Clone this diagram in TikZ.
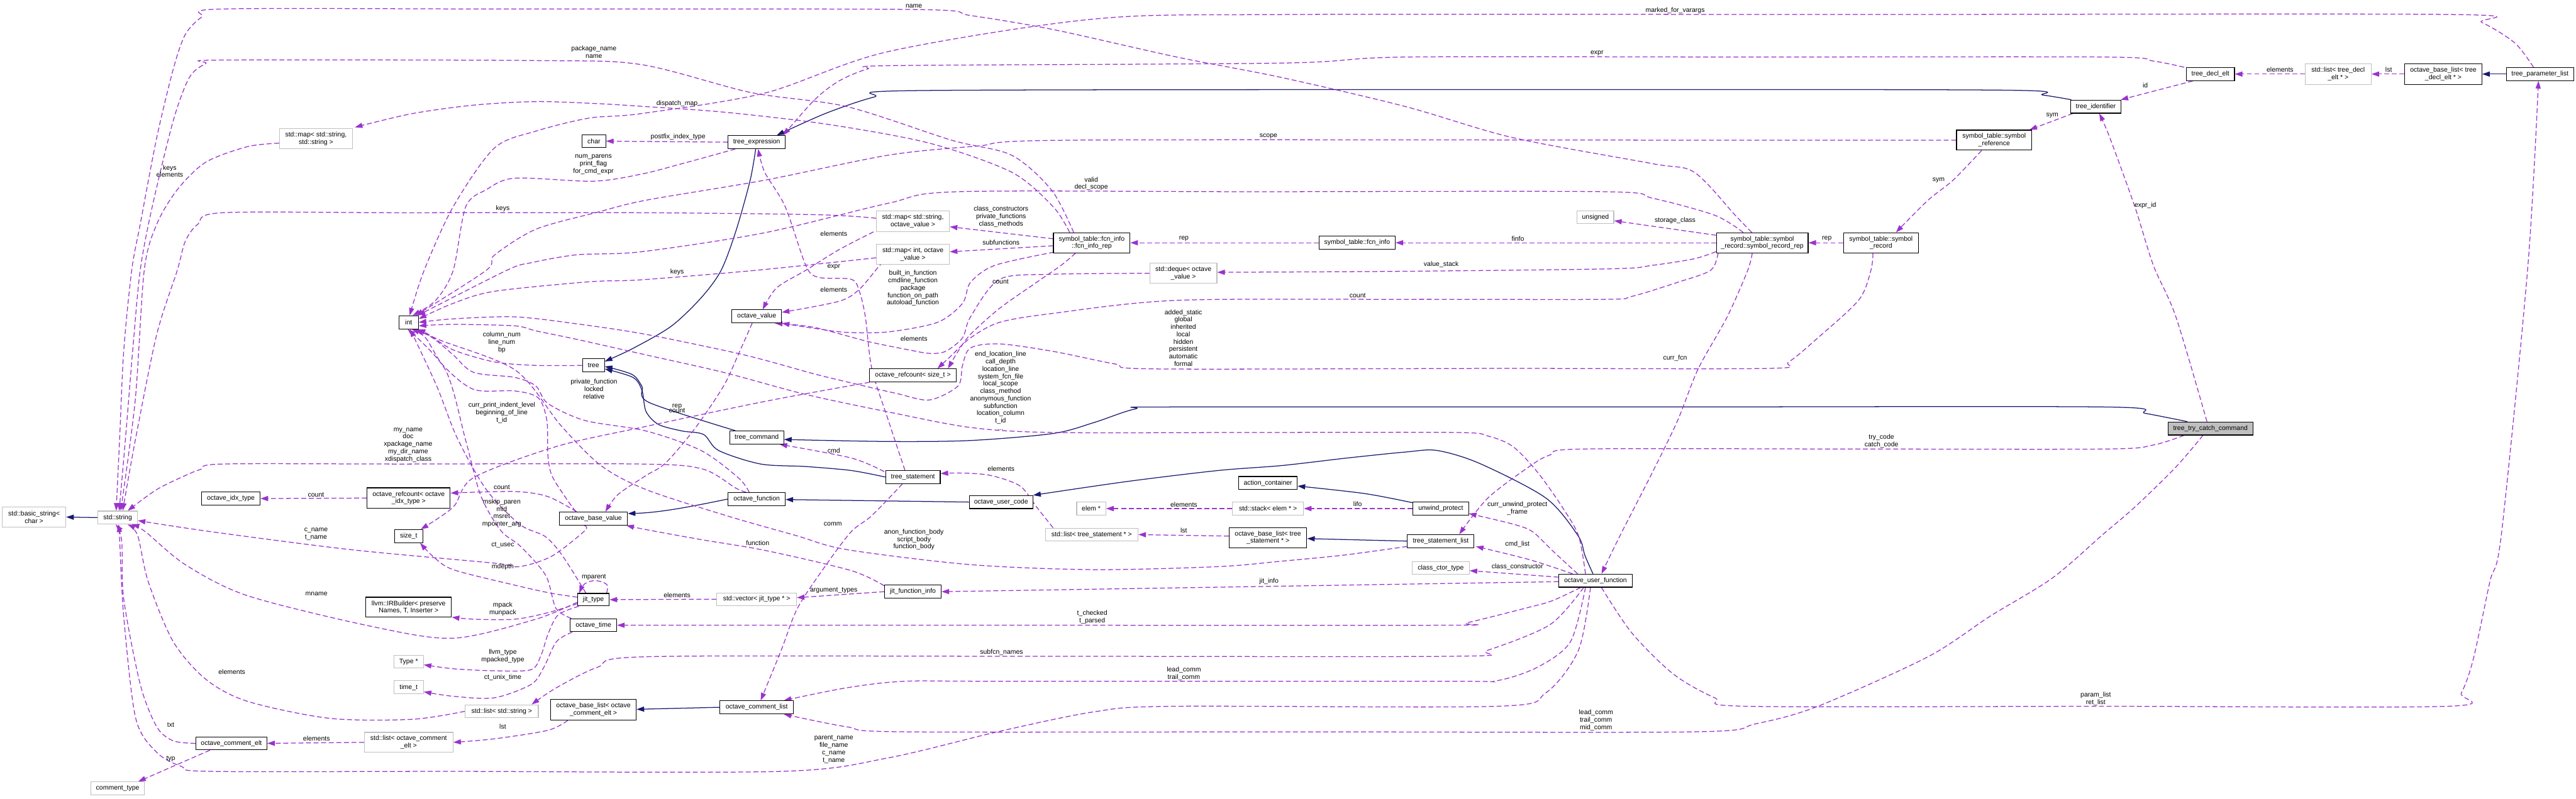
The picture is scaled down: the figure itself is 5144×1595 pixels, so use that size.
\documentclass[tikz,border=0pt]{standalone}
\usepackage{fontspec}
\setmainfont{Liberation Sans}
\usetikzlibrary{arrows.meta,calc}
\definecolor{depc}{HTML}{9A32CD}
\definecolor{inhc}{HTML}{191970}
\definecolor{gboxc}{HTML}{BFBFBF}
\pgfdeclarelayer{back}
\pgfdeclarelayer{edges}
\pgfsetlayers{back,edges,main}
\begin{document}
\begin{tikzpicture}[x=0.01cm,y=-0.01cm,
  txt/.style={font=\fontsize{3.75pt}{4.2pt}\selectfont, inner sep=0pt, align=center},
  cls/.style 2 args={txt, draw=black, line width=0.4pt, fill=white, minimum width=#1*0.01cm, minimum height=#2*0.01cm},
  ext/.style 2 args={txt, draw=gboxc, line width=0.4pt, fill=white, minimum width=#1*0.01cm, minimum height=#2*0.01cm},
  lbl/.style={txt},
  dep/.style={draw=depc, line width=0.45pt, dash pattern=on 2.8pt off 1.5pt, -{Triangle[length=4.3pt,width=2.9pt]}},
  inh/.style={draw=inhc, line width=0.45pt, -{Triangle[length=4.3pt,width=2.9pt]}}
]
\begin{pgfonlayer}{back}
\fill[white] (0,0) rectangle (5144,1595);
\end{pgfonlayer}
\useasboundingbox (0,0) rectangle (5144,1595);

% ---------------- nodes ----------------
\node[cls={170}{26}, fill=gboxc] (tti) at (4414,856) {tree\_try\_catch\_command};
\node[cls={108}{26}] (tcmd) at (1511,874) {tree\_command};
\node[cls={44}{26}] (tree) at (1185,730) {tree};
\node[cls={114}{26}] (texpr) at (1511,284) {tree\_expression};
\node[cls={100}{26}] (tid) at (4185,213) {tree\_identifier};
\node[cls={96}{26}] (tdecl) at (4414,148) {tree\_decl\_elt};
\node[ext={132}{41}] (lstdecl) at (4669,148) {std::list< tree\_decl\\\_elt * >};
\node[cls={154}{41}] (oblDecl) at (4879,148) {octave\_base\_list< tree\\\_decl\_elt * >};
\node[cls={134}{26}] (tpl) at (5072,148) {tree\_parameter\_list};
\node[cls={150}{40}] (symref) at (3982,280) {symbol\_table::symbol\\\_reference};
\node[cls={150}{40}] (symrec) at (3756,485) {symbol\_table::symbol\\\_record};
\node[cls={183}{40}] (symrep) at (3519,485) {symbol\_table::symbol\\\_record::symbol\_record\_rep};
\node[ext={73}{26}] (unsig) at (3186,434) {unsigned};
\node[cls={152}{26}] (fcninfo) at (2710,485) {symbol\_table::fcn\_info};
\node[cls={153}{40}] (fcnrep) at (2180,485) {symbol\_table::fcn\_info\\::fcn\_info\_rep};
\node[ext={134}{40}] (deque) at (2363,546) {std::deque< octave\\\_value >};
\node[ext={146}{41}] (mapso) at (1823,442) {std::map< std::string,\\octave\_value >};
\node[ext={146}{40}] (mapio) at (1823,508) {std::map< int, octave\\\_value >};
\node[ext={146}{40}] (mapss) at (631,277) {std::map< std::string,\\std::string >};
\node[cls={47}{26}] (chr) at (1186,282) {char};
\node[cls={39}{26}] (int) at (816,644) {int};
\node[cls={99}{26}] (ov) at (1511,632) {octave\_value};
\node[cls={174}{26}] (rcsz) at (1823,750) {octave\_refcount< size\_t >};
\node[cls={109}{26}] (tstmt) at (1823,953) {tree\_statement};
\node[cls={114}{26}] (ofcn) at (1511,997) {octave\_function};
\node[cls={127}{26}] (ouc) at (1999,1003) {octave\_user\_code};
\node[cls={117}{26}] (actc) at (2532,965) {action\_container};
\node[ext={58}{26}] (elem) at (2179,1016) {elem *};
\node[ext={142}{26}] (stack) at (2532,1016) {std::stack< elem * >};
\node[ext={185}{26}] (lststmt) at (2180,1068) {std::list< tree\_statement * >};
\node[cls={155}{40}] (oblStmt) at (2532,1074) {octave\_base\_list< tree\\\_statement * >};
\node[cls={111}{26}] (uwp) at (2877,1016) {unwind\_protect};
\node[cls={133}{26}] (tsl) at (2877,1081) {tree\_statement\_list};
\node[ext={114}{25}] (cct) at (2877,1135) {class\_ctor\_type};
\node[cls={146}{26}] (ouf) at (3186,1160) {octave\_user\_function};
\node[cls={117}{26}] (oit) at (461,996) {octave\_idx\_type};
\node[cls={166}{41}] (rcidx) at (816,995) {octave\_refcount< octave\\\_idx\_type >};
\node[ext={127}{40}] (bstr) at (68,1033) {std::basic\_string<\\char >};
\node[ext={79}{26}] (str) at (235,1034) {std::string};
\node[cls={136}{26}] (obv) at (1185,1036) {octave\_base\_value};
\node[cls={57}{26}] (sizet) at (816,1071) {size\_t};
\node[cls={63}{25}] (jit) at (1185,1198) {jit\_type};
\node[cls={171}{40}] (irb) at (816,1213) {llvm::IRBuilder< preserve\\Names, T, Inserter >};
\node[cls={93}{26}] (otime) at (1185,1249) {octave\_time};
\node[ext={59}{25}] (typ) at (816,1322) {Type *};
\node[ext={59}{26}] (timet) at (816,1373) {time\_t};
\node[ext={146}{26}] (lststr) at (1002,1421) {std::list< std::string >};
\node[cls={171}{41}] (oblCom) at (1185,1418) {octave\_base\_list< octave\\\_comment\_elt >};
\node[cls={142}{26}] (oce) at (462,1485) {octave\_comment\_elt};
\node[ext={177}{40}] (lstcom) at (816,1483) {std::list< octave\_comment\\\_elt >};
\node[ext={107}{26}] (ctype) at (235,1575) {comment\_type};
\node[cls={113}{26}] (jfi) at (1823,1182) {jit\_function\_info};
\node[ext={159}{25}] (vecjit) at (1511,1197) {std::vector< jit\_type * >};
\node[cls={147}{26}] (ocl) at (1511,1413) {octave\_comment\_list};

% ---------------- edges ----------------
\begin{pgfonlayer}{edges}
% inheritance
\draw[inh] plot[smooth,tension=0.5] coordinates {($(tid.north west)+(2,0)$) (4080,190) (3990,180) (2900,179) (1830,181) (1745,194) (1650,226) ($(texpr.north)+(40,0)$)};
\draw[inh] plot[smooth,tension=0.5] coordinates {($(texpr.south)+(-2,0)$) (1498,360) (1470,460) (1440,540) (1400,595) (1340,652) (1262,697) ($(tree.east)+(0,-8)$)};
\draw[inh] plot[smooth,tension=0.5] coordinates {($(tcmd.north west)+(12,0)$) (1296,804) (1282,772) (1262,748) ($(tree.east)+(0,2)$)};
\draw[inh] plot[smooth,tension=0.5] coordinates {(tstmt.west) (1700,940) (1609,932) (1519,927) (1435,900) (1405,868) (1362,861) (1315,848) (1290,822) (1282,780) (1264,754) ($(tree.east)+(0,7)$)};
\draw[inh] plot[smooth,tension=0.5] coordinates {($(tti.north)+(-46,0)$) (4285,826) (4200,813) (3300,813) (2341,813) (2267,817) (2185,844) (2103,866) (1938,880) (1774,882) ($(tcmd.east)+(0,4)$)};
\draw[inh] (ouc.west) -- ($(ofcn.east)+(0,1)$);
\draw[inh] (ofcn.west) .. controls (1380,1012) and (1320,1024) .. ($(obv.east)+(0,-10)$);
\draw[inh] plot[smooth,tension=0.5] coordinates {($(ouf.north)+(-5,0)$) (3165,1110) (3151,1070) (3087,995) (2955,926) (2870,900) (2807,903) (2690,915) (2560,930) (2432,940) (2250,962) (ouc.north east)};
\draw[inh] plot[smooth,tension=0.5] coordinates {($(uwp.north west)+(0,2)$) (2725,986) ($(actc.east)+(0,6)$)};
\draw[inh] (tsl.west) -- ($(oblStmt.east)+(0,2)$);
\draw[inh] (ocl.west) -- ($(oblCom.east)+(0,-1)$);
\draw[inh] (str.west) -- (bstr.east);
\draw[inh] (tpl.west) -- (oblDecl.east);

% usage
\draw[dep] plot[smooth,tension=0.5] coordinates {($(tti.south west)+(33,0)$) (4300,889) (4205,897) (3700,897) (3161,897) (3095,909) (3054,932) (2971,995) ($(tsl.north)+(37,0)$)};
\draw[dep] plot[smooth,tension=0.5] coordinates {($(tti.south)+(-15,0)$) (4345,933) (4263,1013) (4200,1067) (4098,1155) (3974,1231) (3850,1312) (3630,1411) (3506,1446) (3383,1462) (2600,1462) (1807,1462) (1691,1452) ($(ocl.south east)+(-20,0)$)};
\draw[dep] plot[smooth,tension=0.5] coordinates {($(tti.north)+(-7,0)$) (4345,633) (4300,530) (4263,413) (4213,275) ($(tid.south)+(7,0)$)};
\draw[dep] plot[smooth,tension=0.5] coordinates {($(ouf.south)+(12,0)$) (3259,1265) (3342,1347) (3424,1394) (3490,1411) (4200,1411) (4886,1411) (4915,1384) (4939,1316) (4972,1162) (4995,1067) (5048,530) ($(tpl.south)+(-3,0)$)};
\draw[dep] plot[smooth,tension=0.5] coordinates {($(tpl.north)+(-13,0)$) (5022,86) (4956,45) (4894,29) (3700,29) (2570,29) (2185,38) (1774,103) (1527,186) (1280,227) (1176,236) (1070,262) (987,296) (905,413) (847,540) ($(int.north)+(2,0)$)};
\draw[dep] plot[smooth,tension=0.5] coordinates {($(tdecl.north west)+(-4,0)$) (4300,122) (4205,114) (3500,114) (2807,114) (2560,126) (1790,131) (1732,138) (1675,162) (1626,200) ($(texpr.north)+(53,0)$)};
\draw[dep] ($(tdecl.south)+(-35,0)$) -- ($(tid.north east)+(-1,0)$);
\draw[dep] (lstdecl.west) -- (tdecl.east);
\draw[dep] (oblDecl.west) -- (lstdecl.east);
\draw[dep] ($(tid.south west)+(5,0)$) -- ($(symref.north east)+(-5,0)$);
\draw[dep] plot[smooth,tension=0.5] coordinates {($(symref.south)+(-25,0)$) (3900,360) (3850,400) ($(symrec.north)+(30,0)$)};
\draw[dep] plot[smooth,tension=0.5] coordinates {(symref.west) (3400,280) (2144,280) (1950,292) (1774,310) (1527,360) (1290,400) (1193,424) (1070,458) (987,510) (971,540) ($(int.north)+(14,0)$)};
\draw[dep] plot[smooth,tension=0.5] coordinates {($(symrep.north)+(-38,0)$) (3424,430) (3300,396) (3202,383) (2500,383) (1913,383) (1774,406) (1527,465) (1280,503) (1152,509) (1060,525) (1012,540) ($(int.north east)+(-2,0)$)};
\draw[dep] plot[smooth,tension=0.5] coordinates {($(symrep.north)+(-21,0)$) (3465,430) (3383,344) (3300,327) (3021,275) (2807,213) (2560,155) (2350,114) (2103,59) (1938,31) (1825,19) (1000,18) (444,18) (403,34) (370,69) (346,138) (313,275) (280,448) (263,540) (247,702) (239,874) ($(str.north)+(-3,0)$)};
\draw[dep] plot[smooth,tension=0.5] coordinates {($(fcnrep.north)+(-36,0)$) (2100,380) (2020,310) (1900,280) (1691,213) (1500,185) (1280,129) (1070,121) (444,120) (411,127) (378,155) (346,241) (304,413) (280,540) (265,700) (251,871) ($(str.north)+(3,0)$)};
\draw[dep] plot[smooth,tension=0.5] coordinates {($(fcnrep.north)+(-44,0)$) (2103,413) (2020,344) (1856,286) (1650,248) (1445,224) (1290,213) (1193,207) (1070,203) (946,210) (823,227) ($(mapss.north east)+(4,-2)$)};
\draw[dep] ($(fcnrep.west)+(0,-8)$) -- ($(mapso.east)+(0,11)$);
\draw[dep] ($(fcnrep.west)+(0,6)$) -- ($(mapio.east)+(0,-5)$);
\draw[dep] plot[smooth,tension=0.5] coordinates {($(fcnrep.south west)+(45,0)$) (2119,530) (2070,564) (1996,616) (1938,668) (1913,702) ($(rcsz.north)+(70,0)$)};
\draw[dep] plot[smooth,tension=0.5] coordinates {($(fcnrep.south west)+(2,-2)$) (1987,530) (1938,564) (1922,606) (1872,644) (1774,663) (1691,664) (1626,656) (ov.south east)};
\draw[dep] plot[smooth,tension=0.5] coordinates {($(symrep.south west)+(4,0)$) (3416,540) (3350,564) (3259,592) (3202,598) (2800,598) (2350,600) (2103,626) (1996,644) (1938,675) (1897,713) ($(rcsz.north)+(49,0)$)};
\draw[dep] plot[smooth,tension=0.5] coordinates {($(symrep.south west)+(0,-3)$) (3383,517) (3300,530) (3218,537) (2800,542) ($(deque.east)+(0,-2)$)};
\draw[dep] (symrep.west) -- (fcninfo.east);
\draw[dep] ($(symrep.west)+(0,-15)$) -- ($(unsig.east)+(0,7)$);
\draw[dep] (symrec.west) -- (symrep.east);
\draw[dep] (fcninfo.west) -- (fcnrep.east);
\draw[dep] plot[smooth,tension=0.5] coordinates {(deque.west) (2100,548) (1996,558) (1938,633) (1922,675) (1888,702) (1856,706) (1815,699) (1732,682) (1626,654) ($(ov.south east)+(-14,0)$)};
\draw[dep] plot[smooth,tension=0.5] coordinates {($(symrec.south)+(-16,0)$) (3736,540) (3712,599) (3630,675) (3572,723) (3531,736) (3000,736) (2308,737) (2226,727) (2103,702) (1996,687) (1938,695) (1922,730) (1913,771) (1856,799) (1790,786) (1700,765) (1626,747) (1486,709) (1290,668) (1152,647) (1028,633) (905,637) (int.east)};
\draw[dep] plot[smooth,tension=0.5] coordinates {(tree.west) (1070,730) (987,723) (905,699) (856,668) ($(int.south east)+(-2,0)$)};
\draw[dep] plot[smooth,tension=0.5] coordinates {($(ofcn.north)+(-15,0)$) (1475,955) (1400,900) (1290,861) (1168,840) (1094,806) (1070,771) (1028,754) (946,744) (905,709) (864,675) ($(int.south)+(12,0)$)};
\draw[dep] plot[smooth,tension=0.5] coordinates {($(obv.north)+(-35,0)$) (1130,995) (1102,950) (1094,909) (1092,840) (1075,795) (1028,781) (946,778) (885,730) (850,675) ($(int.south)+(6,0)$)};
\draw[dep] plot[smooth,tension=0.5] coordinates {($(ofcn.north)+(-21,0)$) (1469,975) (1403,937) (1280,927) (800,927) (444,927) (400,938) (370,950) (313,978) ($(str.north)+(20,0)$)};
\draw[dep] plot[smooth,tension=0.5] coordinates {($(obv.north west)+(35,0)$) (1094,992) (1028,982) ($(rcidx.east)+(0,-10)$)};
\draw[dep] (rcidx.west) -- (oit.east);
\draw[dep] plot[smooth,tension=0.5] coordinates {($(obv.south west)+(50,0)$) (1168,1060) (1102,1111) (1037,1132) (987,1125) (700,1098) (420,1062) ($(str.east)+(0,6)$)};
\draw[dep] plot[smooth,tension=0.5] coordinates {($(jit.west)+(0,5)$) (1070,1237) (905,1275) (740,1251) (494,1190) (370,1128) (290,1062) ($(str.south)+(28,0)$)};
\draw[dep] plot[smooth,tension=0.5] coordinates {($(jit.west)+(0,-5)$) (1100,1185) (1028,1169) (905,1138) (864,1111) ($(sizet.south)+(23,0)$)};
\draw[dep] plot[smooth,tension=0.5] coordinates {($(jit.west)+(0,8)$) (1094,1224) (1028,1237) (946,1237) ($(irb.east)+(0,20)$)};
\draw[dep] plot[smooth,tension=0.5] coordinates {($(jit.south west)+(3,0)$) (1115,1228) (1095,1265) (1080,1310) (1060,1338) (987,1340) (905,1336) ($(typ.east)+(0,6)$)};
\draw[dep] plot[smooth,tension=0.5] coordinates {($(otime.south west)+(5,0)$) (1111,1282) (1086,1333) (1061,1367) (987,1394) (905,1391) ($(timet.east)+(0,9)$)};
\draw[dep] plot[smooth,tension=0.5] coordinates {($(otime.north west)+(3,0)$) (1110,1215) (1090,1150) (1040,1092) (1000,1060) (960,990) (930,880) (890,740) ($(int.south)+(-2,0)$)};
\draw[dep] plot[smooth,tension=0.5] coordinates {($(jit.north)+(-15,0)$) (1135,1128) (1111,1094) (1086,1070) (1037,1047) (971,978) (913,875) (872,771) ($(int.south)+(3,0)$)};
\draw[dep] plot[smooth,tension=0.6] coordinates {($(jit.north east)+(-6,0)$) (1212,1168) (1190,1160) (1168,1166) ($(jit.north west)+(4,0)$)};
\draw[dep] (vecjit.west) -- (jit.east);
\draw[dep] (jfi.west) -- ($(vecjit.east)+(0,-3)$);
\draw[dep] plot[smooth,tension=0.5] coordinates {($(jfi.north west)+(0,2)$) (1700,1140) (1530,1100) (1400,1078) (1290,1058) ($(obv.south east)+(-3,0)$)};
\draw[dep] ($(ouf.west)+(0,2)$) -- (jfi.east);
\draw[dep] ($(ouf.west)+(0,-7)$) -- ($(cct.east)+(0,5)$);
\draw[dep] plot[smooth,tension=0.5] coordinates {($(ouf.north west)+(28,0)$) (3054,1118) ($(tsl.south east)+(3,-3)$)};
\draw[dep] plot[smooth,tension=0.5] coordinates {($(ouf.north west)+(38,0)$) (3100,1100) (3060,1062) (3021,1047) ($(uwp.east)+(0,10)$)};
\draw[dep] plot[smooth,tension=0.5] coordinates {($(ouf.south west)+(44,0)$) (3100,1200) (3054,1213) (2930,1244) (2889,1249) (2000,1249) (otime.east)};
\draw[dep] plot[smooth,tension=0.5] coordinates {($(ouf.south west)+(50,0)$) (3095,1248) (2971,1299) (2906,1311) (2000,1311) (1290,1312) (1193,1333) (1111,1374) ($(lststr.north east)+(-14,0)$)};
\draw[dep] plot[smooth,tension=0.5] coordinates {($(ouf.south)+(-20,0)$) (3136,1282) (3070,1333) (2988,1360) (2889,1361) (2000,1361) (1807,1361) (1691,1374) ($(ocl.north east)+(-20,0)$)};
\draw[dep] plot[smooth,tension=0.5] coordinates {($(ouf.south)+(-10,0)$) (3152,1299) (3087,1384) (2988,1411) (2341,1411) (2185,1422) (1996,1461) (1774,1514) (1560,1541) (900,1541) (420,1541) (362,1531) (313,1503) (271,1435) (247,1231) (239,1080) ($(str.south)+(2,0)$)};
\draw[dep] plot[smooth,tension=0.5] coordinates {($(ouf.north)+(-20,0)$) (3152,1070) (3119,1012) (3070,943) (3021,892) (2971,871) (2906,864) (2500,864) (2103,864) (1938,854) (1774,823) (1609,788) (1445,744) (1290,709) (1152,678) (1070,661) (1028,651) (905,648) ($(int.east)+(0,7)$)};
\draw[dep] plot[smooth,tension=0.5] coordinates {($(symrep.south)+(-20,0)$) (3490,540) (3449,633) (3391,737) (3350,840) (3300,943) (3235,1070) ($(ouf.north)+(12,0)$)};
\draw[dep] plot[smooth,tension=0.5] coordinates {($(tsl.south west)+(0,-3)$) (2683,1109) (2560,1121) (2432,1132) (2185,1138) (1938,1128) (1691,1098) (1590,1070) (1450,1030) (1290,978) (1200,930) (1120,850) (1030,740) (880,680) ($(int.south)+(16,0)$)};
\draw[dep] plot[smooth,tension=0.5] coordinates {($(lststmt.north west)+(16,0)$) (2070,1013) (2037,971) (1979,950) (1922,945) ($(tstmt.east)+(0,-7)$)};
\draw[dep] ($(oblStmt.west)+(0,-3)$) -- (lststmt.east);
\draw[dep] (stack.west) -- (elem.east);
\draw[dep] (uwp.west) -- (stack.east);
\draw[dep] plot[smooth,tension=0.5] coordinates {($(tstmt.north west)+(-2,3)$) (1700,915) ($(tcmd.south east)+(-9,0)$)};
\draw[dep] plot[smooth,tension=0.5] coordinates {($(tstmt.north)+(-16,0)$) (1774,840) (1741,737) (1728,633) (1716,582) (1700,558) (1634,554) (1609,530) (1568,413) (1527,344) ($(texpr.south)+(3,0)$)};
\draw[dep] plot[smooth,tension=0.5] coordinates {($(tstmt.south)+(-21,0)$) (1741,1030) (1700,1062) (1650,1128) (1593,1214) (1560,1299) ($(ocl.north)+(8,0)$)};
\draw[dep] plot[smooth,tension=0.5] coordinates {($(mapso.south west)+(-5,0)$) (1675,499) (1609,540) (1551,575) ($(ov.north)+(12,0)$)};
\draw[dep] plot[smooth,tension=0.5] coordinates {($(mapio.south west)+(15,0)$) (1757,530) (1716,578) (1675,602) ($(ov.east)+(0,-8)$)};
\draw[dep] plot[smooth,tension=0.5] coordinates {($(mapio.west)+(0,7)$) (1510,540) (1280,559) (1176,563) (987,582) (905,606) ($(int.east)+(0,-7)$)};
\draw[dep] plot[smooth,tension=0.5] coordinates {($(mapso.west)+(0,-6)$) (1634,429) (1280,425) (800,425) (444,425) (395,448) (370,482) (354,540) (313,668) (271,875) ($(str.north)+(10,0)$)};
\draw[dep] plot[smooth,tension=0.5] coordinates {($(mapss.west)+(0,9)$) (494,293) (411,324) (354,379) (313,448) (288,540) (270,800) ($(str.north)+(6,0)$)};
\draw[dep] plot[smooth,tension=0.5] coordinates {($(oblCom.south west)+(35,0)$) (1094,1459) (987,1476) (lstcom.east)};
\draw[dep] (lstcom.west) -- (oce.east);
\draw[dep] ($(oce.south west)+(29,0)$) -- ($(ctype.north)+(41,0)$);
\draw[dep] plot[smooth,tension=0.5] coordinates {(oce.west) (346,1480) (313,1452) (280,1367) (247,1196) (243,1080) ($(str.south)+(-4,0)$)};
\draw[dep] plot[smooth,tension=0.5] coordinates {(lststr.west) (823,1437) (658,1435) (494,1401) (411,1357) (346,1282) (296,1162) (275,1070) ($(str.south)+(20,0)$)};
\draw[dep] plot[smooth,tension=0.5] coordinates {($(rcsz.south west)+(1,0)$) (1527,802) (1280,854) (1111,892) (946,954) (905,1013) ($(sizet.north east)+(-5,0)$)};
\draw[dep] plot[smooth,tension=0.5] coordinates {($(ov.south)+(-9,0)$) (1477,702) (1445,771) (1387,857) (1329,925) (1290,950) (1234,988) ($(obv.north)+(24,0)$)};
\draw[dep] (texpr.west) -- (chr.east);
\draw[dep] plot[smooth,tension=0.5] coordinates {($(texpr.south west)+(15,0)$) (1362,327) (1280,348) (1185,362) (1028,356) (971,379) (930,413) (905,540) (870,600) ($(int.north)+(8,0)$)};
\end{pgfonlayer}

% ---------------- labels ----------------
\node[lbl] (l1) at (1186,104) {package\_name\\name};
\node[lbl] (l2) at (1825,12) {name};
\node[lbl] (l3) at (1352,207) {dispatch\_map};
\node[lbl] (l4) at (1354,274) {postfix\_index\_type};
\node[lbl] (l5) at (1185,329) {num\_parens\\print\_flag\\for\_cmd\_expr};
\node[lbl] (l6) at (339,342) {keys\\elements};
\node[lbl] (l7) at (1004,417) {keys};
\node[lbl] (l8) at (3345,21) {marked\_for\_varargs};
\node[lbl] (l9) at (3189,107) {expr};
\node[lbl] (l10) at (2533,272) {scope};
\node[lbl] (l11) at (2179,367) {valid\\decl\_scope};
\node[lbl] (l12) at (1999,433) {class\_constructors\\private\_functions\\class\_methods};
\node[lbl] (l13) at (1665,467) {elements};
\node[lbl] (l14) at (1999,484) {subfunctions};
\node[lbl] (l15) at (2364,477) {rep};
\node[lbl] (l16) at (1665,534) {expr};
\node[lbl] (l17) at (3345,440) {storage\_class};
\node[lbl] (l18) at (3031,477) {finfo};
\node[lbl] (l19) at (3648,477) {rep};
\node[lbl] (l20) at (2878,529) {value\_stack};
\node[lbl] (l21) at (4553,139) {elements};
\node[lbl] (l22) at (4770,139) {lst};
\node[lbl] (l23) at (4284,171) {id};
\node[lbl] (l24) at (4098,231) {sym};
\node[lbl] (l25) at (3871,360) {sym};
\node[lbl] (l26) at (4284,411) {expr\_id};
\node[lbl] (l27) at (1002,684) {column\_num\\line\_num\\bp};
\node[lbl] (l28) at (1186,777) {private\_function\\locked\\relative};
\node[lbl] (l29) at (1002,825) {curr\_print\_indent\_level\\beginning\_of\_line\\t\_id};
\node[lbl] (l30) at (815,889) {my\_name\\doc\\xpackage\_name\\my\_dir\_name\\xdispatch\_class};
\node[lbl] (l31) at (631,988) {count};
\node[lbl] (l32) at (1002,973) {count};
\node[lbl] (l33) at (1002,1025) {mskip\_paren\\mid\\msret\\mpointer\_arg};
\node[lbl] (l34) at (631,1067) {c\_name\\t\_name};
\node[lbl] (l35) at (1352,544) {keys};
\node[lbl] (l36) at (1823,576) {built\_in\_function\\cmdline\_function\\package\\function\_on\_path\\autoload\_function};
\node[lbl] (l37) at (1998,563) {count};
\node[lbl] (l38) at (1665,579) {elements};
\node[lbl] (l39) at (2363,675) {added\_static\\global\\inherited\\local\\hidden\\persistent\\automatic\\formal};
\node[lbl] (l40) at (1825,676) {elements};
\node[lbl] (l41) at (1998,781) {end\_location\_line\\call\_depth\\location\_line\\system\_fcn\_file\\local\_scope\\class\_method\\anonymous\_function\\subfunction\\location\_column\\t\_id\\...};
\node[lbl] (l42a) at (1352,812) {rep};
\node[lbl] (l42b) at (1352,820) {count};
\node[lbl] (l43) at (1665,900) {cmd};
\node[lbl] (l44) at (1999,937) {elements};
\node[lbl] (l45) at (1663,1047) {comm};
\node[lbl] (l46) at (1825,1078) {anon\_function\_body\\script\_body\\function\_body};
\node[lbl] (l47) at (2711,591) {count};
\node[lbl] (l48) at (3345,715) {curr\_fcn};
\node[lbl] (l49) at (3757,881) {try\_code\\catch\_code};
\node[lbl] (l50) at (2711,1007) {lifo};
\node[lbl] (l51) at (3030,1016) {curr\_unwind\_protect\\\_frame};
\node[lbl] (l52) at (2364,1008) {elements};
\node[lbl] (l53) at (2364,1060) {lst};
\node[lbl] (l54) at (1004,1089) {ct\_usec};
\node[lbl] (l55) at (1004,1132) {mdepth};
\node[lbl] (l56) at (1186,1153) {mparent};
\node[lbl] (l57) at (632,1187) {mname};
\node[lbl] (l58) at (1004,1217) {mpack\\munpack};
\node[lbl] (l59) at (1004,1311) {llvm\_type\\mpacked\_type};
\node[lbl] (l60) at (1004,1353) {ct\_unix\_time};
\node[lbl] (l61) at (463,1342) {elements};
\node[lbl] (l62) at (1004,1452) {lst};
\node[lbl] (l63) at (341,1448) {txt};
\node[lbl] (l64) at (632,1475) {elements};
\node[lbl] (l65) at (341,1516) {typ};
\node[lbl] (l66) at (1513,1085) {function};
\node[lbl] (l67) at (1665,1180) {argument\_types};
\node[lbl] (l68) at (1352,1189) {elements};
\node[lbl] (l69) at (2534,1161) {jit\_info};
\node[lbl] (l70) at (2181,1233) {t\_checked\\t\_parsed};
\node[lbl] (l71) at (2000,1303) {subfcn\_names};
\node[lbl] (l72) at (2364,1346) {lead\_comm\\trail\_comm};
\node[lbl] (l73) at (1665,1497) {parent\_name\\file\_name\\c\_name\\t\_name};
\node[lbl] (l74) at (3030,1087) {cmd\_list};
\node[lbl] (l75) at (3030,1133) {class\_constructor};
\node[lbl] (l76) at (3187,1439) {lead\_comm\\trail\_comm\\mid\_comm};
\node[lbl] (l77) at (4185,1396) {param\_list\\ret\_list};
\end{tikzpicture}
\end{document}
